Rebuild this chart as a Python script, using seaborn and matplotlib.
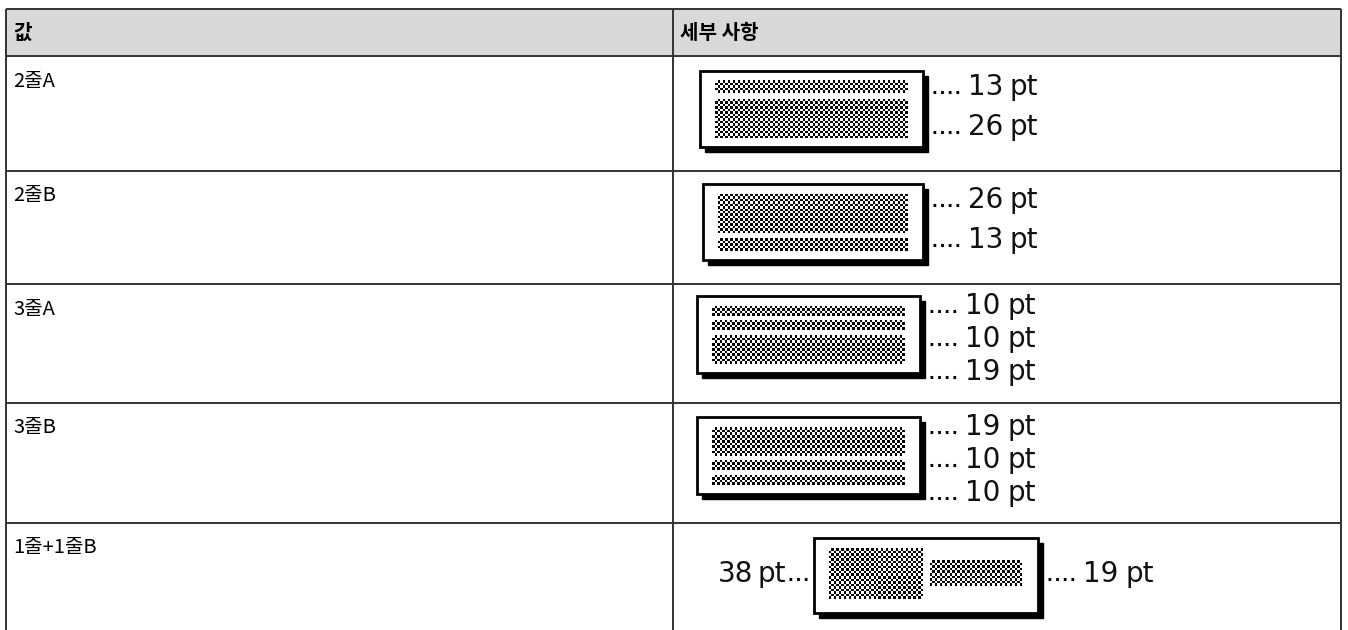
import numpy as np
import matplotlib
matplotlib.use("Agg")
import matplotlib.pyplot as plt
from matplotlib.patches import Rectangle
import seaborn as sns

# ---- data ----
headers = ["값", "세부 사항"]
values = ["2줄A", "2줄B", "3줄A", "3줄B", "1줄+1줄B"]
line_sizes = [[13, 26], [26, 13], [10, 10, 19], [19, 10, 10], [38, 19]]
size_unit = "pt"

sns.set_theme(style="white")
plt.rcParams['font.family'] = ['Noto Sans CJK KR', 'DejaVu Sans']

W, H = 1348, 630
fig = plt.figure(figsize=(W / 100, H / 100), dpi=100)
ax = fig.add_axes([0, 0, 1, 1])

# ---- table layout (pixels) ----
left, right, divider = 6, 1341, 673
top, head_bottom = 9, 56
row_tops = [56, 171, 284, 403, 523]
line_c = "#333333"

ax.add_patch(Rectangle((left, top), right - left, head_bottom - top,
                       facecolor="#d9d9d9", edgecolor="none", zorder=0))
ax.hlines([top, head_bottom], left, right, color=line_c, lw=1.4, zorder=3)
ax.hlines(row_tops[1:], left, right, color=line_c, lw=1.4, zorder=3)
ax.vlines([left, divider, right], top, H + 2, color=line_c, lw=1.4, zorder=3)

ax.text(left + 7, (top + head_bottom) / 2, headers[0], fontsize=14.5,
        fontweight="bold", va="center", ha="left", color="black")
ax.text(divider + 7, (top + head_bottom) / 2, headers[1], fontsize=14.5,
        fontweight="bold", va="center", ha="left", color="black")

for rt, lab in zip(row_tops, values):
    ax.text(left + 7, rt + 25, lab, fontsize=14.5, va="center", ha="left",
            color="black")


def checker(x0, x1, y0, y1, cell=2.5):
    nx = max(1, int(round((x1 - x0) / cell)))
    ny = max(1, int(round((y1 - y0) / cell)))
    ii, jj = np.indices((ny, nx))
    arr = ((ii + jj) % 2).astype(float)
    ax.imshow(arr, cmap="gray_r", vmin=0, vmax=1, extent=(x0, x1, y1, y0),
              interpolation="nearest", aspect="auto", zorder=5)


def frame(x0, y0, x1, y1):
    ax.add_patch(Rectangle((x0 + 5, y0 + 5), x1 - x0, y1 - y0,
                           facecolor="black", edgecolor="black", lw=1, zorder=3))
    ax.add_patch(Rectangle((x0, y0), x1 - x0, y1 - y0, facecolor="white",
                           edgecolor="black", lw=2.0, zorder=4))


def dots(xa, xb, y):
    ax.plot([xa, xb], [y, y], color="black", lw=2.2,
            linestyle=(0, (0.9, 1.6)), solid_capstyle="butt", zorder=5)


label_kw = dict(fontsize=20, family="DejaVu Sans", va="center", ha="left",
                color="#111111", zorder=6)


def size_label(x, y, s, align="left"):
    # number and unit set a little apart, like the bitmap font of the original
    if align == "left":
        ax.text(x, y, f"{int(s)}", **label_kw)
        ax.text(x + 42, y, size_unit, **label_kw)
    else:
        ax.text(x, y, size_unit, **{**label_kw, "ha": "right"})
        ax.text(x - 33, y, f"{int(s)}", **{**label_kw, "ha": "right"})


# ---- vertical stacked tapes (rows 1-4) ----
frames = [(700, 71, 923, 147), (703, 184, 923, 260),
          (697, 296, 920, 373), (697, 417, 920, 494)]
label_offsets = {2: [16, 56], 3: [10, 43, 76]}
for r in range(4):
    fx0, fy0, fx1, fy1 = frames[r]
    frame(fx0, fy0, fx1, fy1)
    sizes = np.array(line_sizes[r], dtype=float)
    n = len(sizes)
    ix0, ix1 = fx0 + 15, fx1 - 15
    iy0, iy1 = fy0 + 10, fy1 - 9
    gap = 6 if n == 2 else 5
    avail = (iy1 - iy0) - gap * (n - 1)
    w = sizes ** 1.7
    hs = avail * w / w.sum()
    y = iy0
    for h in hs:
        checker(ix0, ix1, y, y + h)
        y += h + gap
    for k, s in enumerate(sizes):
        ly = fy0 + label_offsets[n][k]
        dots(fx1 + 10, fx1 + 38, ly + 5)
        size_label(fx1 + 45, ly, s)

# ---- side-by-side tape (row 5) ----
fx0, fy0, fx1, fy1 = 814, 538, 1038, 613
frame(fx0, fy0, fx1, fy1)
s5 = np.array(line_sizes[4], dtype=float)
inner_h = 51
cy = (fy0 + fy1) / 2 - 2
hb = inner_h * s5 / s5.max()
checker(829, 923, cy - hb[0] / 2, cy + hb[0] / 2)
checker(930, 1022, cy - hb[1] / 2, cy + hb[1] / 2)
size_label(fx0 - 28, cy, s5[0], align="right")
dots(fx0 - 25, fx0 - 5, cy + 5)
dots(fx1 + 10, fx1 + 38, cy + 5)
size_label(fx1 + 45, cy, s5[1])

ax.set_xlim(0, W)
ax.set_ylim(H, 0)
ax.axis("off")
fig.savefig("out.png", dpi=100, facecolor="white")
